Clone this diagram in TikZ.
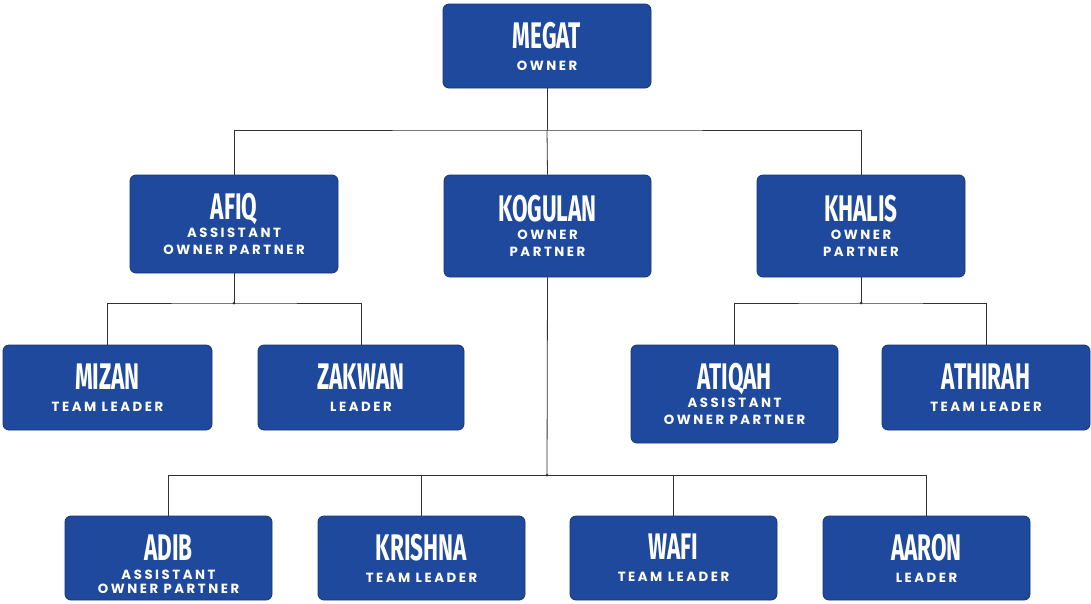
\documentclass[tikz,border=0pt]{standalone}
\usepackage{fontspec}
\newfontfamily\namefont{Fira Sans}[FakeStretch=0.61]
\newfontfamily\subfontfam{Poppins}[LetterSpace=19]
\definecolor{boxblue}{RGB}{30,73,157}
\definecolor{boxedge}{RGB}{22,52,118}
\definecolor{linecol}{RGB}{50,50,50}
\newcommand{\nm}[1]{{\namefont\bfseries\fontsize{37}{37}\selectfont #1}}
\tikzset{
  orgbox/.style={draw=boxedge, line width=0.8pt, fill=boxblue, rounded corners=6pt,
    text=white, align=center, inner sep=0pt,
    font=\subfontfam\bfseries\fontsize{13.3}{17}\selectfont},
  conn/.style={draw=linecol, line width=0.8pt},
  jdot/.style={fill=linecol, circle, inner sep=0pt, minimum size=3pt}
}
\begin{document}
\begin{tikzpicture}[x=1pt,y=-1pt]
\useasboundingbox (0,0) rectangle (1091,603);
\fill[white] (0,0) rectangle (1091,603);
% boxes
\node[orgbox, minimum width=208pt, minimum height=84pt] (megat) at (547,46) {\nm{MEGAT}\\[5pt]OWNER};
\node[orgbox, minimum width=208pt, minimum height=98pt] (afiq) at (234,224) {\nm{AFIQ}\\[1pt]ASSISTANT\\OWNER PARTNER};
\node[orgbox, minimum width=207pt, minimum height=102pt] (kogulan) at (547.5,226) {\nm{KOGULAN}\\[1pt]OWNER\\PARTNER};
\node[orgbox, minimum width=208pt, minimum height=102pt] (khalis) at (861,226) {\nm{KHALIS}\\[1pt]OWNER\\PARTNER};
\node[orgbox, minimum width=209pt, minimum height=85pt] (mizan) at (107.5,387.5) {\nm{MIZAN}\\[5pt]TEAM LEADER};
\node[orgbox, minimum width=206pt, minimum height=85pt] (zakwan) at (361,387.5) {\nm{ZAKWAN}\\[5pt]LEADER};
\node[orgbox, minimum width=207pt, minimum height=98pt] (atiqah) at (734.5,394) {\nm{ATIQAH}\\[1pt]ASSISTANT\\OWNER PARTNER};
\node[orgbox, minimum width=208pt, minimum height=85pt] (athirah) at (986,387.5) {\nm{ATHIRAH}\\[5pt]TEAM LEADER};
\node[orgbox, minimum width=207pt, minimum height=84pt] (adib) at (168.5,558) {\nm{\rule{0pt}{39pt}ADIB}\\[2pt]ASSISTANT\\[-3pt]OWNER PARTNER};
\node[orgbox, minimum width=207pt, minimum height=84pt] (krishna) at (421.5,558) {\nm{KRISHNA}\\[5pt]TEAM LEADER};
\node[orgbox, minimum width=207pt, minimum height=84pt] (wafi) at (673.5,558) {\nm{WAFI}\\[5pt]TEAM LEADER};
\node[orgbox, minimum width=207pt, minimum height=84pt] (aaron) at (926.5,558) {\nm{AARON}\\[5pt]LEADER};
% junctions
\coordinate (j1) at (547,130);
\coordinate (j2) at (234,303);
\coordinate (j3) at (861,303);
\coordinate (j4) at (547,475);
% connectors
\draw[conn] (megat.south) -- (j1);
\draw[conn] (afiq.north) |- (j1) -| (khalis.north);
\draw[conn] (j1) -- (kogulan.north);
\draw[conn] (afiq.south) -- (j2);
\draw[conn] (mizan.north) |- (j2) -| (zakwan.north);
\draw[conn] (khalis.south) -- (j3);
\draw[conn] (atiqah.north) |- (j3) -| (athirah.north);
\draw[conn] (kogulan.south) -- (j4);
\draw[conn] (adib.north) |- (j4) -| (aaron.north);
\draw[conn] (krishna.north) -- (krishna.north |- j4);
\draw[conn] (wafi.north) -- (wafi.north |- j4);
\node[jdot] (d2) at (j2) {};
\node[jdot] (d3) at (j3) {};
\node[jdot] (d4) at (j4) {};
\end{tikzpicture}
\end{document}
